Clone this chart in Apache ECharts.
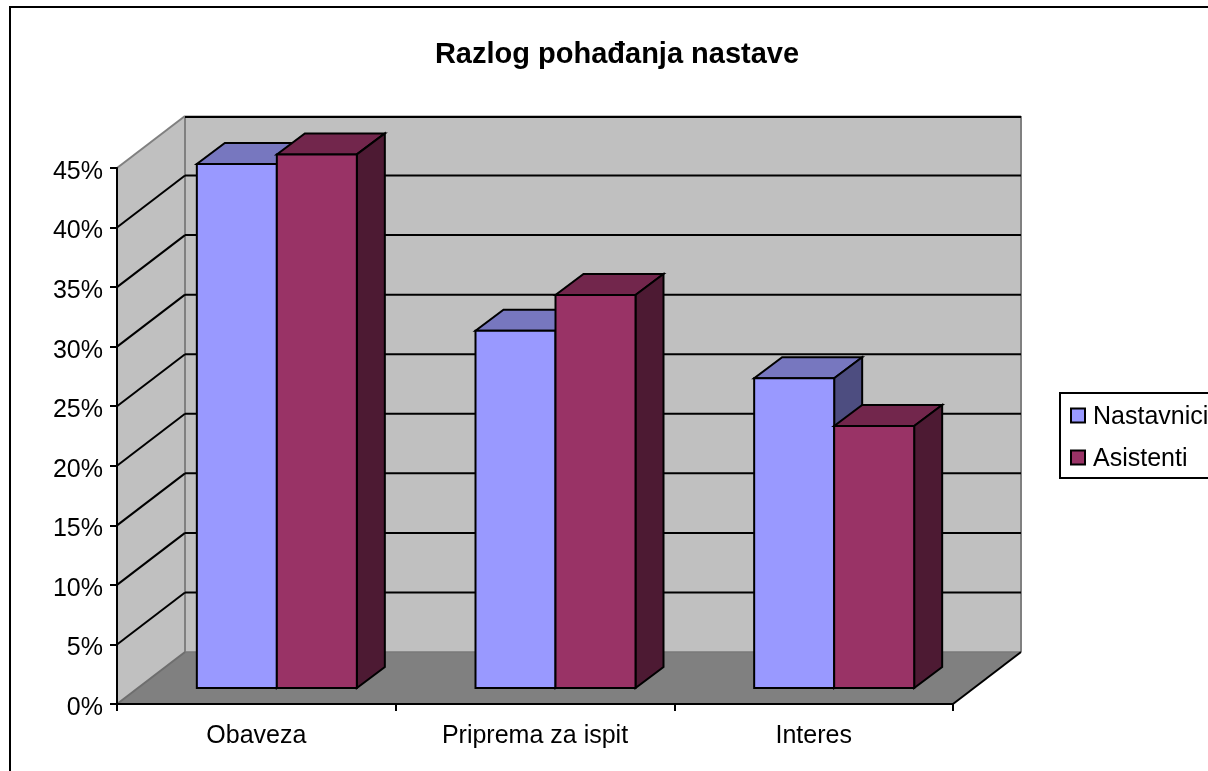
<!DOCTYPE html>
<html>
<head>
<meta charset="utf-8">
<style>html,body{margin:0;padding:0;background:#fff;overflow:hidden}#c{width:1208px;height:771px}</style>
<script src="https://cdn.jsdelivr.net/npm/echarts@6/dist/echarts.min.js"></script>
</head>
<body>
<div id="c"></div>
<script>
var categories = ['Obaveza', 'Priprema za ispit', 'Interes'];
var nastavnici = [44, 30, 26];
var asistenti = [44.8, 33, 22];
var yTicks = [0, 5, 10, 15, 20, 25, 30, 35, 40, 45];

var WALL_DX = 68, WALL_DY = -52;
var BAR_SHIFT_X = 20.5, BAR_SHIFT_Y = -16;
var BAR_DX = 28, BAR_DY = -21, BAR_W = 80;
var FONT = '"Liberation Sans", Arial, sans-serif';

function poly(points, fill, stroke, w) {
  return { type: 'polygon', shape: { points: points },
    style: { fill: fill, stroke: stroke, lineWidth: w, lineJoin: 'miter' } };
}
function seg(x1, y1, x2, y2, stroke, w) {
  return { type: 'line', shape: { x1: x1, y1: y1, x2: x2, y2: y2 },
    style: { stroke: stroke, lineWidth: w } };
}

function renderWalls(params, api) {
  var v = api.value(1);
  var g = params.coordSys;
  var xL = g.x, xR = g.x + g.width;
  var y = api.coord([0, v])[1];
  var yBottom = g.y + g.height, yTop = g.y;
  var dx = WALL_DX, dy = WALL_DY;
  var kids = [];
  if (v === 0) {
    kids.push(poly([[xL, yBottom], [xL + dx, yBottom + dy], [xL + dx, yTop + dy], [xL, yTop]], '#C0C0C0', null, 0));
    kids.push(poly([[xL + dx, yTop + dy], [xR + dx, yTop + dy], [xR + dx, yBottom + dy], [xL + dx, yBottom + dy]], '#C0C0C0', null, 0));
    kids.push(poly([[xL, yBottom], [xR, yBottom], [xR + dx, yBottom + dy], [xL + dx, yBottom + dy]], '#808080', null, 0));
    kids.push(seg(xL + dx, yTop + dy, xL + dx, yBottom + dy, '#808080', 2));
    kids.push(seg(xR + dx, yTop + dy, xR + dx, yBottom + dy, '#808080', 2));
    kids.push(seg(xL + dx, yBottom + dy, xR + dx, yBottom + dy, '#7A7A7A', 1.5));
    kids.push(seg(xL, yBottom, xL + dx, yBottom + dy, '#6E6E6E', 2));
    kids.push(seg(xR, yBottom, xR + dx, yBottom + dy, '#000', 2));
  } else if (v === yTicks[yTicks.length - 1]) {
    kids.push(seg(xL, y, xL + dx, y + dy, '#808080', 2));
    kids.push(seg(xL + dx, y + dy, xR + dx, y + dy, '#808080', 1));
    kids.push(seg(xL + dx, y + dy + 1, xR + dx, y + dy + 1, '#000', 2));
  } else {
    kids.push(seg(xL, y, xL + dx, y + dy, '#000', 2));
    kids.push(seg(xL + dx, y + dy, xR + dx, y + dy, '#000', 2));
  }
  return { type: 'group', children: kids };
}

function barRenderer(side, front, top, dark) {
  return function (params, api) {
    var cat = api.value(0), val = api.value(1);
    var p0 = api.coord([cat, 0]), p1 = api.coord([cat, val]);
    var cx = p0[0] + BAR_SHIFT_X;
    var x0 = side < 0 ? cx - BAR_W : cx, x1 = x0 + BAR_W;
    var yb = p0[1] + BAR_SHIFT_Y, yt = p1[1] + BAR_SHIFT_Y;
    var dx = BAR_DX, dy = BAR_DY;
    return { type: 'group', children: [
      poly([[x0, yt], [x1, yt], [x1 + dx, yt + dy], [x0 + dx, yt + dy]], top, '#000', 2),
      poly([[x1, yt], [x1 + dx, yt + dy], [x1 + dx, yb + dy], [x1, yb]], dark, '#000', 2),
      poly([[x0, yt], [x1, yt], [x1, yb], [x0, yb]], front, '#000', 2)
    ] };
  };
}

function pairs(arr) { return arr.map(function (v, i) { return [i, v]; }); }

var chart = echarts.init(document.getElementById('c'), null, { renderer: 'canvas' });
chart.setOption({
  animation: false,
  backgroundColor: '#fff',
  textStyle: { fontFamily: FONT },
  graphic: [{ type: 'rect', z: -10, silent: true,
    shape: { x: 10, y: 7, width: 1300, height: 900 },
    style: { fill: '#fff', stroke: '#000', lineWidth: 2 } }],
  title: { text: 'Razlog pohađanja nastave', left: 612, top: 35, textAlign: 'center',
    textStyle: { fontFamily: FONT, fontWeight: 'bold', fontSize: 29, color: '#000' } },
  grid: { left: 117, right: 255, top: 168, bottom: 67 },
  legend: { orient: 'vertical', left: 1060, top: 393, padding: [12, 60, 6, 10],
    itemWidth: 14, itemHeight: 14, itemGap: 17, selectedMode: false,
    borderColor: '#000', borderWidth: 2, backgroundColor: '#fff',
    formatter: '{t|{name}}',
    textStyle: { fontFamily: FONT, fontSize: 25, color: '#000', padding: [0, 0, 0, 3],
      rich: { t: { fontFamily: FONT, fontSize: 25, color: '#000', padding: [4, 0, 0, 0] } } },
    data: [
      { name: 'Nastavnici', icon: 'rect', itemStyle: { color: '#9999FF', borderColor: '#000', borderWidth: 2 } },
      { name: 'Asistenti', icon: 'rect', itemStyle: { color: '#993366', borderColor: '#000', borderWidth: 2 } }
    ] },
  xAxis: { type: 'category', data: categories, z: 10, boundaryGap: true,
    axisLine: { show: true, lineStyle: { color: '#000', width: 2 } },
    axisTick: { show: true, length: 7, lineStyle: { color: '#000', width: 2 } },
    axisLabel: { color: '#000', fontSize: 25, margin: 20, fontFamily: FONT, interval: 0 },
    splitLine: { show: false } },
  yAxis: { type: 'value', min: 0, max: 45, interval: 5, z: 10,
    axisLine: { show: true, lineStyle: { color: '#000', width: 2 } },
    axisTick: { show: true, length: 7, lineStyle: { color: '#000', width: 2 } },
    axisLabel: { color: '#000', fontSize: 25, margin: 14, fontFamily: FONT, formatter: '{t|{value}%}',
      rich: { t: { fontFamily: FONT, fontSize: 25, color: '#000', padding: [8, 0, 0, 0] } } },
    splitLine: { show: false } },
  series: [
    { type: 'custom', name: 'walls', coordinateSystem: 'cartesian2d', z: 1, silent: true, clip: false,
      data: yTicks.map(function (t) { return [0, t]; }), renderItem: renderWalls },
    { type: 'custom', name: 'Nastavnici', coordinateSystem: 'cartesian2d', z: 2, clip: false,
      itemStyle: { color: '#9999FF' }, data: pairs(nastavnici),
      renderItem: barRenderer(-1, '#9999FF', '#7777BF', '#4D4D80') },
    { type: 'custom', name: 'Asistenti', coordinateSystem: 'cartesian2d', z: 3, clip: false,
      itemStyle: { color: '#993366' }, data: pairs(asistenti),
      renderItem: barRenderer(1, '#993366', '#72264C', '#4D1A33') }
  ]
});
</script>
</body>
</html>
